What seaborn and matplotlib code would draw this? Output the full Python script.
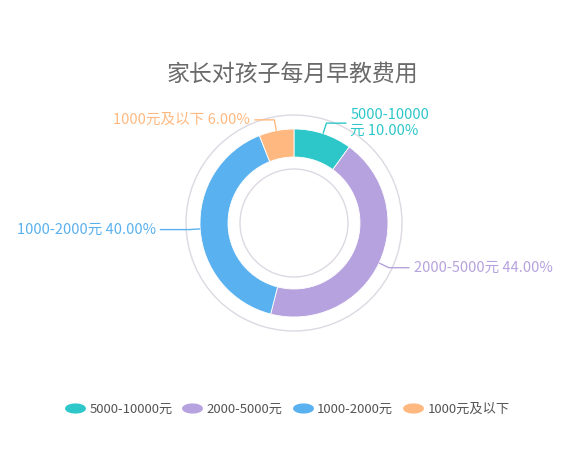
import numpy as np
import matplotlib
matplotlib.use("Agg")
import matplotlib.pyplot as plt
import seaborn as sns
from matplotlib.path import Path
from matplotlib.lines import Line2D
from matplotlib.patches import Circle

sns.set_theme(style="white")
plt.rcParams['font.family'] = ['Noto Sans CJK SC', 'DejaVu Sans']

title = "家长对孩子每月早教费用"
categories = ["5000-10000元", "2000-5000元", "1000-2000元", "1000元及以下"]
percent = [10.0, 44.0, 40.0, 6.0]
colors = ["#2ec7c9", "#b6a2de", "#5ab1ef", "#ffb980"]

W, H = 574, 476
fig = plt.figure(figsize=(W / 100, H / 100), dpi=100)
fig.patch.set_facecolor("white")
ax = fig.add_axes([0, 0, 1, 1])

cx, cy = 294, H - 223
r_out, r_in = 94, 66

wedges, _ = ax.pie(percent, colors=colors, startangle=90, counterclock=False,
                   radius=r_out, center=(cx, cy),
                   wedgeprops=dict(width=r_out - r_in, edgecolor="white", linewidth=0.6))

# thin decorative rings
for rr in (108, 54):
    ax.add_patch(Circle((cx, cy), rr, fill=False, edgecolor="#ddd8e2", linewidth=1.0, zorder=0))

# labels with leader lines
L1, L2 = 11, 20
for i, (w, cat, p, c) in enumerate(zip(wedges, categories, percent, colors)):
    th = np.deg2rad((w.theta1 + w.theta2) / 2)
    x0, y0 = cx + r_out * np.cos(th), cy + r_out * np.sin(th)
    x1, y1 = cx + (r_out + L1) * np.cos(th), cy + (r_out + L1) * np.sin(th)
    side = 1 if np.cos(th) >= 0 else -1
    # longer horizontal run for labels sitting beside the ring
    run = L2 + 10 * abs(np.cos(th)) ** 30
    x2 = x1 + side * run
    ax.plot([x0, x1, x2], [y0, y1, y1], color=c, lw=1.0, solid_capstyle="butt")
    txt = f"{cat} {p:.2f}%"
    if i == 0:
        txt = txt.replace("元 ", "\n元 ")
    ax.text(x2 + side * 4, y1, txt, color=c, fontsize=10.5,
            ha="left" if side > 0 else "right", va="center", linespacing=1.15)

ax.set_xlim(0, W)
ax.set_ylim(0, H)
ax.set_aspect("equal")
ax.axis("off")

ax.text(W / 2 + 5, H - 74, title, fontsize=16.5, color="#6a6a6a", ha="center", va="center")

# legend with rounded blob markers
t = np.linspace(0, 2 * np.pi, 60)
blob = Path(np.column_stack([np.cos(t), 0.45 * np.sin(t)]))
handles = [Line2D([], [], linestyle="none", marker=blob, markersize=14,
                  markerfacecolor=c, markeredgecolor=c) for c in colors]
leg = ax.legend(handles, categories, loc="center", bbox_to_anchor=(288 / W, 1 - 409 / H),
                ncol=4, frameon=False, fontsize=9.5, handlelength=1.3, handletextpad=0.45,
                columnspacing=0.85, labelcolor="#555555")

fig.savefig("out.png", dpi=100, facecolor="white")
